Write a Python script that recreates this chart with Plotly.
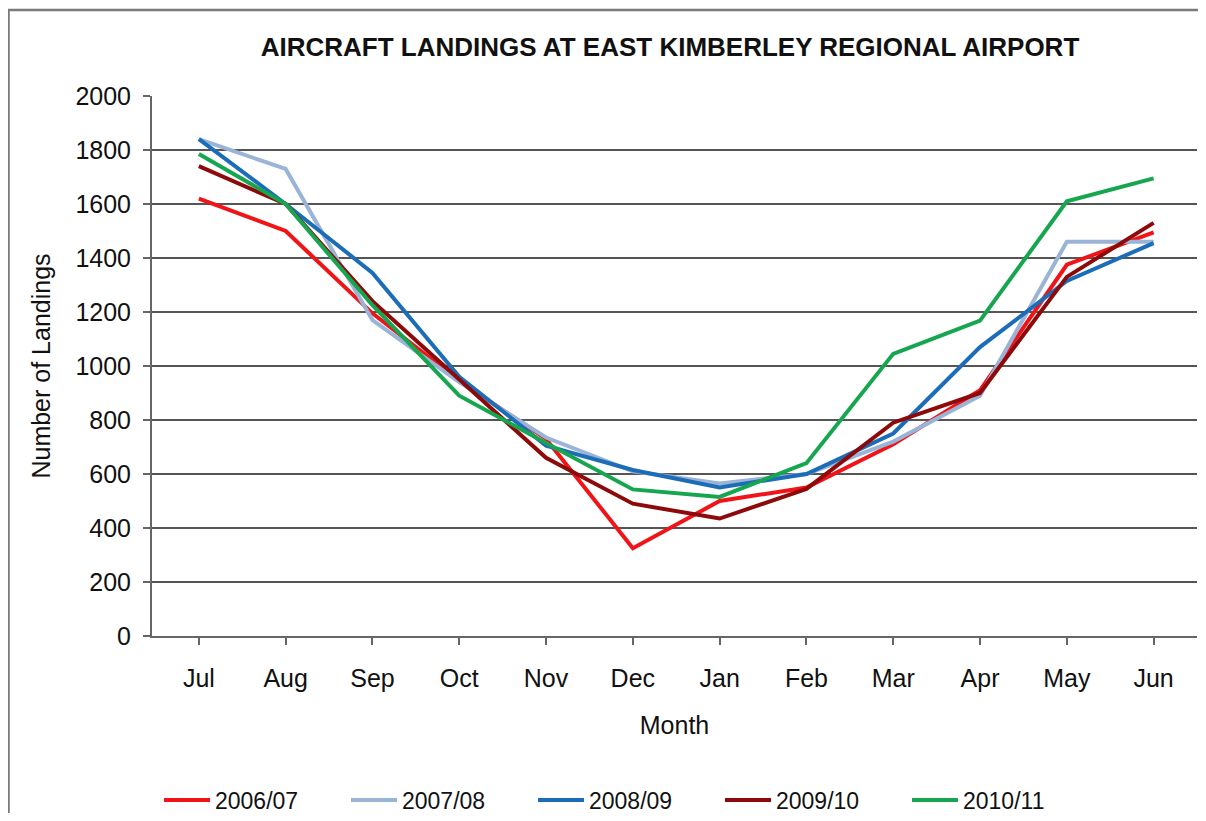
import plotly.graph_objects as go

months = ["Jul", "Aug", "Sep", "Oct", "Nov", "Dec", "Jan", "Feb", "Mar", "Apr", "May", "Jun"]
s_2006_07 = [1620, 1500, 1195, 945, 730, 325, 500, 550, 710, 910, 1375, 1495]
s_2007_08 = [1840, 1730, 1170, 940, 735, 610, 565, 600, 720, 890, 1460, 1460]
s_2008_09 = [1840, 1600, 1345, 960, 705, 615, 550, 600, 750, 1070, 1315, 1455]
s_2009_10 = [1740, 1600, 1240, 950, 660, 490, 435, 545, 790, 900, 1330, 1530]
s_2010_11 = [1785, 1600, 1225, 890, 715, 543, 515, 640, 1045, 1168, 1610, 1695]
y_ticks = [0, 200, 400, 600, 800, 1000, 1200, 1400, 1600, 1800, 2000]

series = [
    ("2006/07", s_2006_07, "#F01418"),
    ("2007/08", s_2007_08, "#9AB4D8"),
    ("2008/09", s_2008_09, "#1C6DB8"),
    ("2009/10", s_2009_10, "#8E0A0A"),
    ("2010/11", s_2010_11, "#17A650"),
]

# figure is placed in a page with an 8px body margin: 1190 + 16 = 1206
W, H = 1190, 805
L, R, T, B = 144, 1, 88, 177
PW, PH = W - L - R, H - T - B

fig = go.Figure()
for name, vals, color in series:
    fig.add_trace(go.Scatter(
        x=months, y=vals, name=name, mode="lines",
        line=dict(color=color, width=4),
    ))

font_family = "Liberation Sans, Arial, sans-serif"

fig.update_layout(
    width=W, height=H,
    margin=dict(l=L, r=R, t=T, b=B, autoexpand=False),
    paper_bgcolor="white", plot_bgcolor="white",
    font=dict(family=font_family, size=25, color="#111111"),
    title=dict(
        text="<b>AIRCRAFT LANDINGS AT EAST KIMBERLEY REGIONAL AIRPORT</b>",
        x=662 / W, xref="container", xanchor="center",
        y=1 - 39 / H, yref="container", yanchor="middle",
        font=dict(family=font_family, size=26, color="#111111"),
    ),
    showlegend=True,
    legend=dict(
        orientation="h", x=(151 - L) / PW, xanchor="left",
        y=(T + PH - 792) / PH, yanchor="middle",
        font=dict(size=23, color="#111111"),
        itemwidth=46,
        entrywidth=126, entrywidthmode="pixels",
        tracegroupgap=0,
        bgcolor="rgba(0,0,0,0)",
    ),
)

fig.update_xaxes(
    type="category", range=[-0.54, 11.5],
    showline=True, linecolor="#666666", linewidth=2,
    ticks="outside", ticklen=7, tickcolor="#666666", tickwidth=1.5,
    ticklabelstandoff=12,
    showgrid=False, zeroline=False,
    tickfont=dict(size=25),
    title=dict(text="Month", font=dict(size=25), standoff=25),
)
fig.update_yaxes(
    range=[0, 2000], tickvals=y_ticks,
    showline=True, linecolor="#666666", linewidth=2,
    ticks="outside", ticklen=7, tickcolor="#666666", tickwidth=1.5,
    ticklabelstandoff=7,
    showgrid=True, gridcolor="#555555", gridwidth=1.5,
    zeroline=False,
    tickfont=dict(size=25),
    title=dict(text="Number of Landings", font=dict(size=25), standoff=18),
)

# outer chart border (left and top edges visible; runs off the right and bottom)
fig.add_shape(
    type="rect", xref="paper", yref="paper",
    x0=(0.5 - L) / PW, x1=(W + 40 - L) / PW,
    y0=(T + PH - (H + 40)) / PH, y1=(T + PH - 2) / PH,
    line=dict(color="#7a7a7a", width=2.5), fillcolor="rgba(0,0,0,0)",
    layer="below",
)

fig.write_html("out.html")
